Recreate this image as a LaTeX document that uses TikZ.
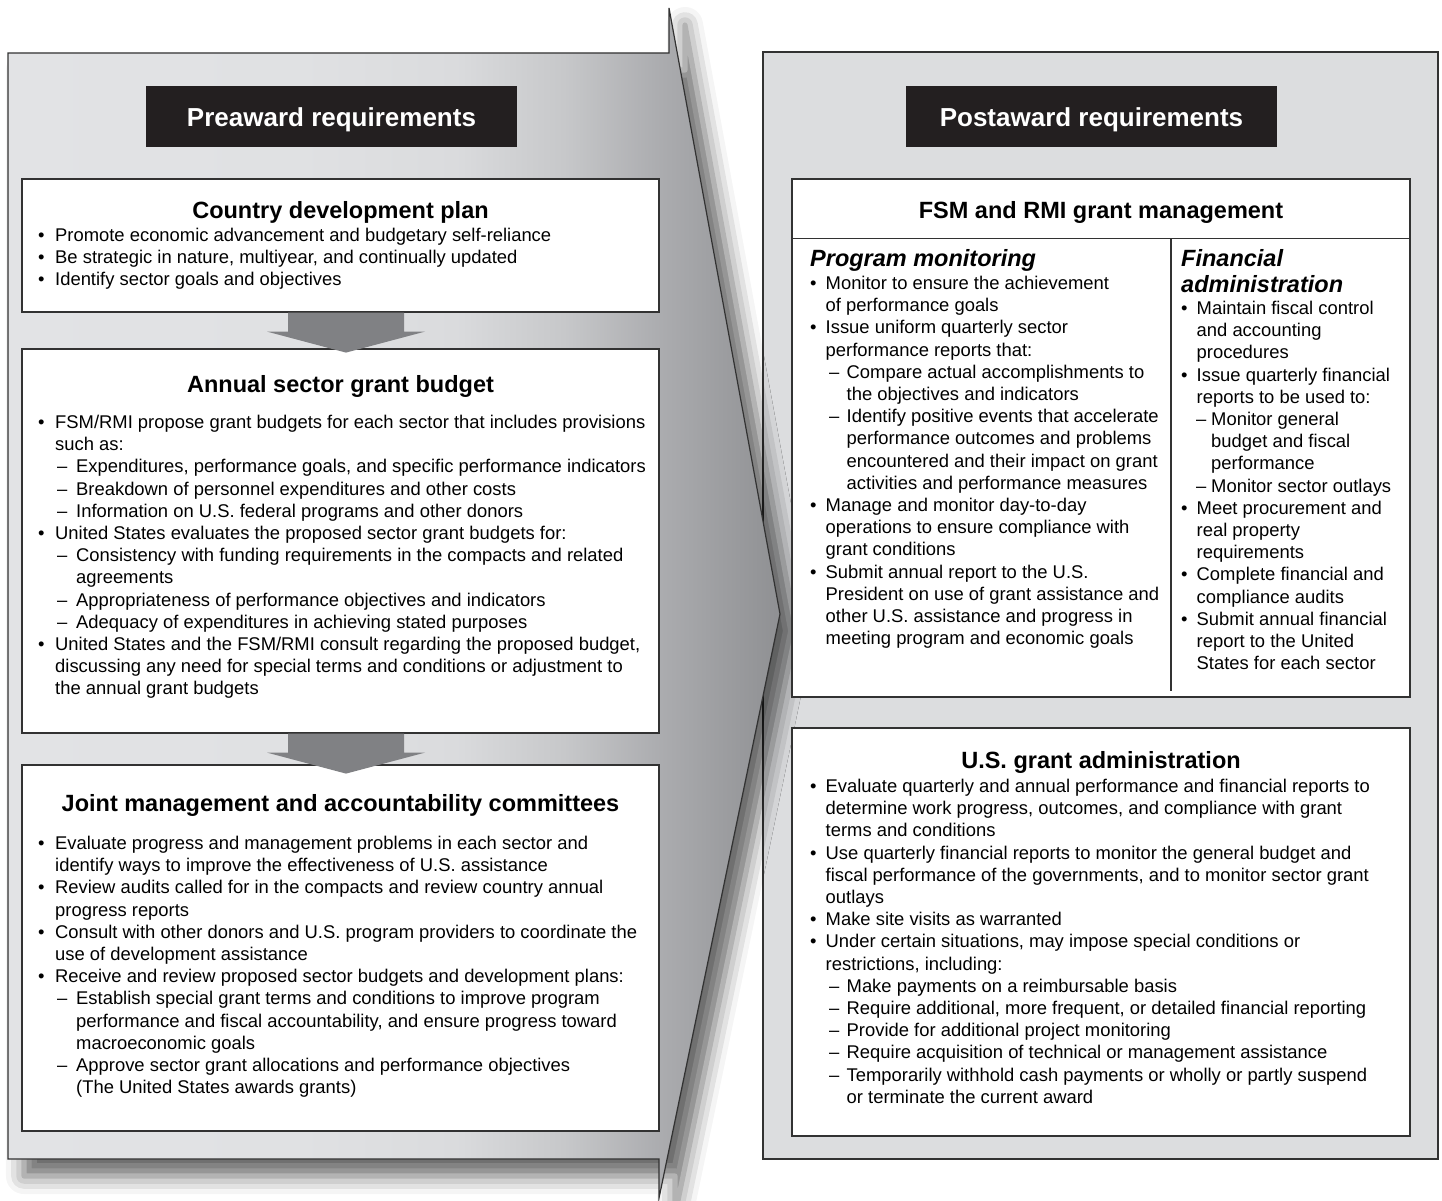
\documentclass[tikz,border=0pt]{standalone}
\usepackage{fontspec}
\setmainfont{Liberation Sans}
\usetikzlibrary{calc,shadows.blur}

\definecolor{panelgray}{RGB}{220,221,223}
\definecolor{arrowgray}{RGB}{128,129,132}
\definecolor{labelblack}{RGB}{35,31,32}
\definecolor{edgegray}{RGB}{50,50,50}

% gradient of the preaward panel (path spans 25bp..75bp)
\pgfdeclarehorizontalshading{preshade}{100bp}{
	rgb(0bp)=(0.886,0.890,0.898);
	rgb(25bp)=(0.886,0.890,0.898);
	rgb(44bp)=(0.878,0.882,0.890);
	rgb(54bp)=(0.855,0.859,0.867);
	rgb(61bp)=(0.780,0.784,0.792);
	rgb(67bp)=(0.675,0.678,0.690);
	rgb(75bp)=(0.561,0.565,0.576);
	rgb(100bp)=(0.561,0.565,0.576)}

% list lines, left panel
\newcommand{\bulL}{\makebox[17pt][l]{\textbullet}}
\newcommand{\contL}{\hspace*{17pt}}
\newcommand{\dashL}{\hspace*{19pt}\makebox[19pt][l]{\textendash}}
\newcommand{\contD}{\hspace*{38pt}}
% list lines, right panel
\newcommand{\bulR}{\makebox[15.5pt][l]{\textbullet}}
\newcommand{\contR}{\hspace*{15.5pt}}
\newcommand{\dashR}{\hspace*{19pt}\makebox[17.5pt][l]{\textendash}}
\newcommand{\contDR}{\hspace*{36.5pt}}
\newcommand{\dashF}{\hspace*{15pt}\makebox[15pt][l]{\textendash}}
\newcommand{\contDF}{\hspace*{30pt}}

\newcommand{\blockarrow}[1]{\fill[arrowgray] (#1) ++(-58,0) -- ++(0,19) -- ++(-21,0) -- ++(79,21) -- ++(79,-21) -- ++(-21,0) -- ++(0,-19) -- cycle;}

\begin{document}
\begin{tikzpicture}[x=1pt,y=-1pt,
	box/.style={draw=edgegray, line width=1.2pt, fill=white, inner sep=0},
	headbox/.style={fill=labelblack, text=white, inner sep=0, minimum width=371pt, minimum height=61pt, text height=19pt, text depth=0pt, font=\fontsize{26}{30}\selectfont\bfseries},
	ttl/.style={anchor=base, inner sep=0, font=\fontsize{23.5}{26}\selectfont\bfseries},
	subttl/.style={anchor=north west, inner sep=0, align=left, font=\fontsize{23.5}{26}\selectfont\bfseries\itshape},
	txt/.style={anchor=north west, inner sep=0, align=left, font=\fontsize{18.4}{22.2}\selectfont}]
	\useasboundingbox (0,0) rectangle (1442,1200);

	% postaward panel
	\draw[edgegray, line width=1.2pt, fill=panelgray] (763,52) rectangle (1438,1159);

	% preaward panel with arrow head
	\path[draw=edgegray, line width=1.2pt, shading=preshade,
		blur shadow={shadow xshift=16pt, shadow yshift=-17pt, shadow blur radius=18pt, shadow opacity=60}]
		(8,53) -- (669,53) -- (669,8) -- (780,614) -- (659,1198) -- (659,1159) -- (8,1159) -- cycle;

	\node[headbox] (pre) at (331.5,116.5) {Preaward requirements};
	\node[headbox] (post) at (1091.5,116.5) {Postaward requirements};

	% preaward boxes
	\node[box, minimum width=637pt, minimum height=133pt] (cdp) at (340.5,245.5) {};
	\node[box, minimum width=637pt, minimum height=384pt] (asgb) at (340.5,541) {};
	\node[box, minimum width=637pt, minimum height=366pt] (jmac) at (340.5,948) {};
	\blockarrow{$(cdp.south)+(5.5,0)$}
	\blockarrow{$(asgb.south)+(5.5,0)$}

	\node[ttl] (cdp-t) at (340.5,218) {Country development plan};
	\node[txt] (cdp-l) at (38,228) {\bulL Promote economic advancement and budgetary self-reliance\\
		\bulL Be strategic in nature, multiyear, and continually updated\\
		\bulL Identify sector goals and objectives};

	\node[ttl] (asgb-t) at (340.5,392) {Annual sector grant budget};
	\node[txt] (asgb-l) at (38,415) {\bulL FSM/RMI propose grant budgets for each sector that includes provisions\\
		\contL such as:\\
		\dashL Expenditures, performance goals, and specific performance indicators\\
		\dashL Breakdown of personnel expenditures and other costs\\
		\dashL Information on U.S. federal programs and other donors\\
		\bulL United States evaluates the proposed sector grant budgets for:\\
		\dashL Consistency with funding requirements in the compacts and related\\
		\contD agreements\\
		\dashL Appropriateness of performance objectives and indicators\\
		\dashL Adequacy of expenditures in achieving stated purposes\\
		\bulL United States and the FSM/RMI consult regarding the proposed budget,\\
		\contL discussing any need for special terms and conditions or adjustment to\\
		\contL the annual grant budgets};

	\node[ttl] (jmac-t) at (340.5,811) {Joint management and accountability committees};
	\node[txt] (jmac-l) at (38,836) {\bulL Evaluate progress and management problems in each sector and\\
		\contL identify ways to improve the effectiveness of U.S. assistance\\
		\bulL Review audits called for in the compacts and review country annual\\
		\contL progress reports\\
		\bulL Consult with other donors and U.S. program providers to coordinate the\\
		\contL use of development assistance\\
		\bulL Receive and review proposed sector budgets and development plans:\\
		\dashL Establish special grant terms and conditions to improve program\\
		\contD performance and fiscal accountability, and ensure progress toward\\
		\contD macroeconomic goals\\
		\dashL Approve sector grant allocations and performance objectives\\
		\contD (The United States awards grants)};

	% postaward boxes
	\node[box, minimum width=618pt, minimum height=518pt] (fsm) at (1101,438) {};
	\draw[edgegray, line width=1.2pt] ($(fsm.north west)+(0,60)$) -- ($(fsm.north east)+(0,60)$);
	\draw[edgegray, line width=1.2pt] (1171,239) -- (1171,691);
	\node[ttl] (fsm-t) at (1101,218) {FSM and RMI grant management};

	\node[subttl, anchor=base west] (pm-t) at (810,266) {Program monitoring};
	\node[txt] (pm-l) at (810,276) {\bulR Monitor to ensure the achievement\\
		\contR of performance goals\\
		\bulR Issue uniform quarterly sector\\
		\contR performance reports that:\\
		\dashR Compare actual accomplishments to\\
		\contDR the objectives and indicators\\
		\dashR Identify positive events that accelerate\\
		\contDR performance outcomes and problems\\
		\contDR encountered and their impact on grant\\
		\contDR activities and performance measures\\
		\bulR Manage and monitor day-to-day\\
		\contR operations to ensure compliance with\\
		\contR grant conditions\\
		\bulR Submit annual report to the U.S.\\
		\contR President on use of grant assistance and\\
		\contR other U.S. assistance and progress in\\
		\contR meeting program and economic goals};

	\node[subttl] (fa-t) at (1181,249) {Financial\\administration};
	\node[txt] (fa-l) at (1181,301) {\bulR Maintain fiscal control\\
		\contR and accounting\\
		\contR procedures\\
		\bulR Issue quarterly financial\\
		\contR reports to be used to:\\
		\dashF Monitor general\\
		\contDF budget and fiscal\\
		\contDF performance\\
		\dashF Monitor sector outlays\\
		\bulR Meet procurement and\\
		\contR real property\\
		\contR requirements\\
		\bulR Complete financial and\\
		\contR compliance audits\\
		\bulR Submit annual financial\\
		\contR report to the United\\
		\contR States for each sector};

	\node[box, minimum width=618pt, minimum height=408pt] (usga) at (1101,932) {};
	\node[ttl] (usga-t) at (1101,768) {U.S. grant administration};
	\node[txt] (usga-l) at (810,779) {\bulR Evaluate quarterly and annual performance and financial reports to\\
		\contR determine work progress, outcomes, and compliance with grant\\
		\contR terms and conditions\\
		\bulR Use quarterly financial reports to monitor the general budget and\\
		\contR fiscal performance of the governments, and to monitor sector grant\\
		\contR outlays\\
		\bulR Make site visits as warranted\\
		\bulR Under certain situations, may impose special conditions or\\
		\contR restrictions, including:\\
		\dashR Make payments on a reimbursable basis\\
		\dashR Require additional, more frequent, or detailed financial reporting\\
		\dashR Provide for additional project monitoring\\
		\dashR Require acquisition of technical or management assistance\\
		\dashR Temporarily withhold cash payments or wholly or partly suspend\\
		\contDR or terminate the current award};
\end{tikzpicture}
\end{document}
